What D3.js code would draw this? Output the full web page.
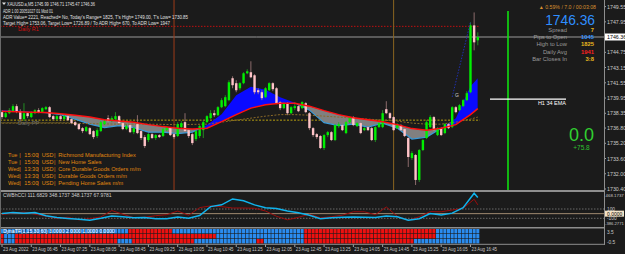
<!DOCTYPE html>
<html>
<head>
<meta charset="utf-8">
<script src="https://cdn.jsdelivr.net/npm/d3@7"></script>
<style>
body { margin: 0; background: #1b1b1b; }
svg { display: block; }
text { font-family: "Liberation Sans", Arial, sans-serif; }
</style>
</head>
<body>
<div id="chart"></div>
<script>
// bar data, XAUUSD M5, first bar 23 Aug 06:05
var opens = [1738.47,1737.95,1738.36,1738.57,1739.10,1738.57,1737.74,1738.36,1737.95,1738.36,
1738.68,1738.47,1738.78,1738.99,1738.05,1737.74,1738.05,1737.74,1738.05,1737.74,
1737.42,1737.21,1736.79,1736.48,1736.79,1736.48,1735.96,1736.48,1737.21,1737.84,
1737.53,1737.74,1738.05,1737.32,1736.69,1737.11,1736.37,1737.21,1736.48,1735.85,
1735.54,1736.16,1735.75,1736.06,1735.96,1736.58,1736.79,1736.16,1735.96,1736.90,
1737.42,1736.58,1736.16,1735.64,1735.96,1736.58,1737.42,1737.84,1738.36,1738.15,
1738.99,1739.10,1739.73,1742.03,1741.51,1740.98,1741.51,1742.55,1742.66,1742.34,
1740.77,1740.56,1740.04,1740.77,1741.51,1740.98,1739.52,1738.89,1739.41,1738.36,
1738.89,1739.10,1738.89,1739.41,1738.36,1736.79,1736.16,1735.96,1734.70,1736.06,
1736.37,1735.54,1737.00,1737.11,1736.27,1737.42,1737.95,1737.00,1737.32,1736.58,
1736.90,1736.79,1735.54,1736.90,1736.90,1738.78,1738.36,1737.95,1736.79,1737.11,
1736.69,1735.75,1733.65,1733.97,1731.35,1734.49,1735.75,1736.90,1737.95,1736.06,
1736.79,1736.27,1737.21,1736.90,1738.99,1738.68,1739.10,1739.73,1740.56,1747.58,
1746.01];
var highs = [1738.68,1738.57,1738.89,1739.31,1739.31,1738.78,1739.41,1738.47,1738.57,1738.78,
1738.89,1738.99,1739.10,1739.10,1738.15,1738.15,1738.15,1738.15,1738.15,1737.84,
1737.53,1737.32,1736.90,1737.00,1736.90,1736.58,1736.79,1737.53,1737.63,1738.15,
1738.05,1738.47,1738.15,1737.42,1737.21,1737.32,1736.90,1738.15,1736.58,1736.06,
1736.27,1736.27,1736.16,1736.16,1736.79,1737.00,1736.90,1736.27,1737.42,1737.53,
1738.36,1736.69,1736.27,1736.58,1737.11,1737.63,1738.15,1738.68,1738.68,1739.10,
1739.94,1740.25,1741.82,1742.24,1741.82,1741.61,1742.66,1742.97,1743.81,1742.45,
1740.98,1740.77,1741.09,1741.61,1741.61,1741.09,1739.62,1739.52,1739.52,1739.10,
1739.52,1739.20,1739.62,1739.52,1738.47,1736.90,1736.27,1736.06,1736.16,1736.48,
1736.48,1737.21,1737.42,1737.21,1737.53,1738.05,1738.05,1737.42,1737.42,1736.90,
1737.00,1736.90,1737.00,1737.42,1738.68,1739.62,1738.47,1738.05,1737.32,1737.21,
1736.79,1735.85,1734.38,1734.07,1734.59,1735.64,1737.63,1738.15,1738.05,1736.90,
1736.90,1737.32,1737.32,1739.10,1739.10,1739.31,1739.83,1740.67,1747.90,1748.94,
1746.85];
var lows = [1737.74,1737.84,1738.26,1738.47,1738.36,1737.53,1737.53,1737.84,1737.84,1738.26,
1738.36,1738.36,1738.68,1737.84,1737.63,1737.63,1737.53,1737.63,1737.53,1737.21,
1737.00,1736.58,1736.27,1736.37,1736.06,1735.64,1735.75,1736.37,1737.11,1737.42,
1737.42,1737.63,1737.21,1736.58,1736.58,1736.27,1736.16,1736.16,1735.54,1734.70,
1735.33,1735.64,1735.54,1735.75,1735.85,1736.48,1735.96,1735.64,1735.85,1736.79,
1736.37,1735.75,1735.01,1735.43,1735.75,1735.75,1737.32,1737.74,1737.95,1738.05,
1738.89,1738.99,1739.62,1740.98,1740.56,1740.77,1741.40,1742.45,1742.03,1740.35,
1740.35,1739.73,1739.94,1740.67,1740.67,1739.31,1738.68,1738.78,1738.15,1738.26,
1738.68,1738.47,1738.78,1738.36,1736.58,1735.85,1735.64,1734.59,1734.49,1735.85,
1735.43,1735.43,1736.79,1736.48,1736.16,1737.32,1737.00,1736.90,1736.16,1736.48,
1736.48,1735.43,1735.33,1736.79,1736.79,1738.26,1737.74,1736.48,1736.69,1736.48,
1735.85,1732.71,1733.44,1730.82,1731.14,1734.38,1735.64,1736.79,1736.48,1735.96,
1735.96,1736.16,1736.69,1736.79,1738.36,1738.57,1738.99,1739.62,1740.46,1744.96,
1745.49];
var closes = [1737.95,1738.36,1738.68,1739.10,1738.57,1737.74,1738.36,1738.05,1738.47,1738.68,
1738.47,1738.89,1738.99,1737.95,1737.74,1738.05,1737.74,1738.05,1737.63,1737.32,
1737.11,1736.69,1736.48,1736.90,1736.16,1735.85,1736.58,1737.42,1737.53,1737.53,
1737.84,1738.05,1737.32,1736.69,1737.00,1736.37,1736.79,1736.27,1735.75,1734.91,
1736.16,1735.75,1736.06,1735.85,1736.69,1736.90,1736.06,1735.85,1737.21,1737.32,
1736.48,1735.96,1735.22,1736.48,1737.00,1737.42,1738.05,1738.36,1738.15,1738.99,
1739.73,1740.04,1741.61,1741.30,1740.77,1741.51,1742.55,1742.76,1742.13,1740.56,
1740.56,1739.94,1740.98,1741.51,1740.88,1739.41,1738.89,1739.41,1738.36,1738.99,
1739.10,1738.57,1739.52,1738.47,1736.79,1736.06,1735.85,1734.70,1736.06,1736.37,
1735.54,1737.11,1737.21,1736.58,1737.42,1737.84,1737.11,1737.32,1736.27,1736.79,
1736.58,1735.54,1736.90,1737.32,1738.36,1738.36,1737.84,1736.58,1737.21,1736.58,
1735.96,1733.76,1734.17,1731.35,1734.49,1735.54,1737.42,1737.95,1736.58,1736.79,
1736.06,1737.21,1736.79,1738.99,1738.47,1739.20,1739.73,1740.46,1747.58,1745.80,
1746.36];

// ribbon: fast MA / slow MA (red) read every 4 bars
var maIdx = [0,4,8,12,16,20,24,28,32,36,40,44,48,52,56,60,64,68,72,76,80,84,88,92,96,100,104,108,112,116,120,124,128,130];
var maFast = [1738.68,1738.63,1738.52,1738.42,1738.21,1737.74,1737.21,1736.85,1737.06,1736.85,1736.37,1736.37,1736.22,1736.37,1737.11,1738.26,1740.25,1741.14,1740.83,1740.04,1739.46,1738.68,1737.37,1737.06,1737.21,1736.90,1737.32,1736.79,1735.64,1735.85,1736.79,1737.84,1741.19,1742.03];
var maSlow = [1738.57,1738.52,1738.47,1738.42,1738.31,1738.15,1737.95,1737.68,1737.53,1737.42,1737.16,1736.95,1736.79,1736.69,1736.79,1737.47,1738.21,1738.89,1739.25,1739.41,1739.41,1739.10,1738.63,1738.21,1737.89,1737.68,1737.47,1737.16,1736.74,1736.58,1736.79,1737.16,1738.21,1738.84];
// dotted H1 average
var h1Idx = [0,8,16,24,32,40,48,56,60,64,68,72,76,80,84,88,92,96,100,104,108,112,116,120,124,128,130];
var h1Ma = [1737.32,1737.32,1737.32,1737.26,1737.21,1737.21,1737.16,1737.21,1737.42,1737.63,1737.84,1738.05,1738.21,1738.21,1738.15,1738.05,1737.95,1737.84,1737.74,1737.63,1737.53,1737.32,1737.21,1737.21,1737.42,1737.74,1737.95];

var dailyR1 = 1747.48, dailyPP = 1737.35, dayOpen = 1737.63, bid = 1746.36, h1Ema = 1739.83;
var sessionBars = [47, 107];

var priceTicks = [1749.55, 1747.95, 1744.75, 1743.15, 1741.55, 1739.95, 1738.35, 1736.80, 1735.20, 1733.60, 1732.00, 1730.40];
var timeBars = [0,8,16,24,32,40,48,56,64,72,80,88,96,104,112,120,128];
var timeLabels = ["23 Aug 2022","23 Aug 06:45","23 Aug 07:25","23 Aug 08:05","23 Aug 08:45","23 Aug 09:25","23 Aug 10:05","23 Aug 10:45","23 Aug 11:25","23 Aug 12:05","23 Aug 12:45","23 Aug 13:25","23 Aug 14:05","23 Aug 14:45","23 Aug 15:25","23 Aug 16:05","23 Aug 16:45"];

// CCI window, every 3 bars
var cciIdx = [0,3,6,9,12,15,18,21,24,27,30,33,36,39,42,45,48,51,54,57,60,63,66,69,72,75,78,81,84,87,90,93,96,99,102,105,108,111,114,117,120,123,126,129,130];
var cciMain = [4,27,10,22,-44,-84,-104,-122,-144,-100,-49,-67,-89,-82,-107,-107,-71,-100,-40,151,189,316,278,189,129,111,56,18,-33,-107,-89,-78,-71,-78,-84,-49,-67,-140,-110,4,-29,11,129,438,348];
var cciSignal = [-18,11,33,-11,-56,-100,-78,-133,-107,-71,67,-11,-89,-78,-44,-22,56,-33,129,167,151,122,122,116,56,-56,-133,-78,-11,-89,-67,-33,40,40,-22,144,-56,-144,-67,44,40,78,116,311,189];
var cciMax = "468.1737", cciMin = "-386.2771";

// trend blocks, run lengths per row (B = up, R = down)
var tfRow1 = [["B",35],["R",12],["B",36],["R",36],["B",12]];
var tfRow2 = [["R",1],["B",3],["R",55],["B",24],["R",36],["B",12]];
var tfRow3 = [["R",1],["B",3],["R",28],["B",4],["R",17],["B",17],["R",2],["B",11],["R",30],["B",18]];

var infoLines = ["ADR 1.00 20051027 01 Mod 01",
  "ADR Value= 2221, Reached= No, Today's Range= 1825, T's High= 1749.00, T's Low= 1730.85",
  "Target High= 1753.06, Target Low= 1726.89 / To ADR High= 670, To ADR Low= 1947"];
var news = [["Tue","15:00","USD","Richmond Manufacturing Index"],
  ["Tue","15:00","USD","New Home Sales"],
  ["Wed","13:30","USD","Core Durable Goods Orders m/m"],
  ["Wed","13:30","USD","Durable Goods Orders m/m"],
  ["Wed","15:00","USD","Pending Home Sales m/m"]];
var stats = [["Spread","7","#e8b820"],["Pips to Open","1045","#2f8fff"],["High to Low","1825","#e8b820"],["Daily Avg","1941","#ff2020"],["Bar Closes In","3:8","#e8b820"]];

var W = 625, H = 254, R = 604;
var svg = d3.select("#chart").append("svg").attr("width", W).attr("height", H);
svg.append("rect").attr("width", W).attr("height", H).attr("fill", "#1b1b1b");

var x = d3.scaleLinear().domain([0, 130]).range([2, 477.8]);
var y = d3.scaleLinear().domain([1730.40, 1746.36]).range([189, 37]);
var yc = d3.scaleLinear().domain([-100, 100]).range([218.3, 209]);

var defs = svg.append("defs");
defs.append("clipPath").attr("id", "mainClip").append("rect").attr("width", R).attr("height", 190);
defs.append("clipPath").attr("id", "cciClip").append("rect").attr("y", 192).attr("width", R).attr("height", 35);

var main = svg.append("g").attr("clip-path", "url(#mainClip)");

// horizontal levels
function hline(p, color, dash, x2) {
  main.append("line").attr("x1", 0).attr("x2", x2).attr("y1", y(p)).attr("y2", y(p))
    .attr("stroke", color).attr("stroke-width", 1).attr("stroke-dasharray", dash);
}
hline(bid, "#9a9a9a", null, R);
hline(dailyR1, "#c01010", "1.5,1.5", x(130) + 2);
hline(dayOpen, "#b8a010", "2,1.5", x(130) + 2);
hline(dailyPP, "#6e6420", "2,1.5", 70);

// session separators
main.selectAll("line.sess").data(sessionBars).enter().append("line")
  .attr("x1", function(d) { return x(d); }).attr("x2", function(d) { return x(d); })
  .attr("y1", 0).attr("y2", 190)
  .attr("stroke", function(d, i) { return i === 0 ? "#9c3a18" : "#8a6420"; }).attr("stroke-width", 1);

// ribbon fill between fast and slow MA
var rib = maIdx.map(function(b, k) { return { i: b, f: maFast[k], s: maSlow[k] }; });
var above = d3.area().x(function(d) { return x(d.i); }).y0(0).y1(function(d) { return y(d.s); });
var below = d3.area().x(function(d) { return x(d.i); }).y0(function(d) { return y(d.s); }).y1(190);
defs.append("clipPath").attr("id", "upClip").append("path").attr("d", above(rib));
defs.append("clipPath").attr("id", "dnClip").append("path").attr("d", below(rib));
var band = d3.area().x(function(d) { return x(d.i); }).y0(function(d) { return y(d.s); }).y1(function(d) { return y(d.f); });
var fastLine = d3.line().x(function(d) { return x(d.i); }).y(function(d) { return y(d.f); });
main.append("path").attr("d", band(rib)).attr("fill", "#0a0aff").attr("clip-path", "url(#upClip)");
main.append("path").attr("d", band(rib)).attr("fill", "#808080").attr("clip-path", "url(#dnClip)");
main.append("path").attr("d", fastLine(rib)).attr("fill", "none").attr("stroke", "#3a9ad8").attr("stroke-width", 1.2).attr("clip-path", "url(#dnClip)");

// H1 dotted average
var h1 = h1Idx.map(function(b, k) { return { i: b, v: h1Ma[k] }; });
main.append("path")
  .attr("d", d3.line().x(function(d) { return x(d.i); }).y(function(d) { return y(d.v); })(h1))
  .attr("fill", "none").attr("stroke", "#8a6a28").attr("stroke-width", 1).attr("stroke-dasharray", "2,1.5");

// candles
var bars = closes.map(function(c, i) { return { i: i, o: opens[i], h: highs[i], l: lows[i], c: c }; });
var cg = main.append("g");
cg.selectAll("line").data(bars).enter().append("line")
  .attr("x1", function(d) { return x(d.i); }).attr("x2", function(d) { return x(d.i); })
  .attr("y1", function(d) { return y(d.h); }).attr("y2", function(d) { return y(d.l); })
  .attr("stroke", function(d) { return d.c >= d.o ? "#24a824" : "#a88080"; }).attr("stroke-width", 0.8);
cg.selectAll("rect").data(bars).enter().append("rect")
  .attr("x", function(d) { return x(d.i) - 1.2; }).attr("width", 2.4)
  .attr("y", function(d) { return y(Math.max(d.o, d.c)); })
  .attr("height", function(d) { return Math.max(1, Math.abs(y(d.o) - y(d.c))); })
  .attr("fill", function(d) { return d.c >= d.o ? "#00f000" : "#ffc4c8"; });

// slow MA on top
main.append("path")
  .attr("d", d3.line().x(function(d) { return x(d.i); }).y(function(d) { return y(d.s); })(rib))
  .attr("fill", "none").attr("stroke", "#ff1010").attr("stroke-width", 1.5);

// bar-size line, H1 EMA marker, G marker
main.append("line").attr("x1", 508).attr("x2", 508).attr("y1", 11).attr("y2", 190).attr("stroke", "#10e010").attr("stroke-width", 1.6);
main.append("line").attr("x1", 490).attr("x2", 566).attr("y1", y(h1Ema)).attr("y2", y(h1Ema)).attr("stroke", "#ffffff").attr("stroke-width", 1.3);
main.append("text").attr("x", 566).attr("y", y(h1Ema) + 6).attr("text-anchor", "end").attr("fill", "#ffffff").attr("font-size", 5.5).text("H1 34 EMA");
main.append("line").attr("x1", x(123)).attr("y1", 97).attr("x2", x(128)).attr("y2", 22).attr("stroke", "#2030b0").attr("stroke-dasharray", "1.5,1.5");
main.append("text").attr("x", 455).attr("y", 97).attr("fill", "#d0d0d0").attr("font-size", 5).text("G");

// top-left info
var tl = svg.append("g").attr("fill", "#e0e0e0").attr("font-size", 5.3);
tl.append("path").attr("d", "M2,2.5 L6,2.5 L4,5 Z").attr("fill", "#e0e0e0");
tl.append("text").attr("x", 7).attr("y", 6).attr("textLength", 88).attr("lengthAdjust", "spacingAndGlyphs")
  .text("XAUUSD.a,M5  1745.99 1746.71 1745.47 1746.36");
var infoW = [50, 185, 167];
infoLines.forEach(function(t, k) {
  tl.append("text").attr("x", 3).attr("y", 12.5 + k * 6.2).attr("textLength", infoW[k]).attr("lengthAdjust", "spacingAndGlyphs").text(t);
});
svg.append("text").attr("x", 18).attr("y", y(dailyR1) + 5).attr("fill", "#d01010").attr("font-size", 5.5).text("Daily R1");
svg.append("text").attr("x", 18).attr("y", y(dailyPP) + 2).attr("fill", "#707070").attr("font-size", 5.5).text("Daily PP");

// calendar
var ng = svg.append("g").attr("fill", "#e08a10").attr("font-size", 5.6);
news.forEach(function(r, k) {
  var yy = 157 + k * 7.1;
  [8, 24.3, 41.7, 58.3].forEach(function(xx, j) { ng.append("text").attr("x", xx).attr("y", yy).text(r[j]); });
  [19.3, 37.3, 54].forEach(function(xx) { ng.append("text").attr("x", xx).attr("y", yy).text("|"); });
});

// top-right panel
var tr = svg.append("g");
tr.append("text").attr("x", 596).attr("y", 8.5).attr("text-anchor", "end").attr("fill", "#d89030").attr("font-size", 5.2).text("\u25B2 0.59% / 7.0 / 00:03:08");
tr.append("text").attr("x", 595).attr("y", 24.8).attr("text-anchor", "end").attr("fill", "#2f8fff").attr("font-size", 13.8).text(bid.toFixed(2));
stats.forEach(function(s, k) {
  var yy = 31.5 + k * 7.35;
  tr.append("text").attr("x", 567).attr("y", yy).attr("text-anchor", "end").attr("fill", "#9a9a9a").attr("font-size", 5.8).text(s[0]);
  tr.append("text").attr("x", 594).attr("y", yy).attr("text-anchor", "end").attr("fill", s[2]).attr("font-size", 5.8).attr("font-weight", "bold").text(s[1]);
});
tr.append("text").attr("x", 581.5).attr("y", 140.5).attr("text-anchor", "middle").attr("fill", "#30d030").attr("font-size", 18).text("0.0");
tr.append("text").attr("x", 581.5).attr("y", 150).attr("text-anchor", "middle").attr("fill", "#30c030").attr("font-size", 6.5).text("+75.8");

// price axis
var ax = svg.append("g").attr("fill", "#c8c8c8").attr("font-size", 5.3);
priceTicks.forEach(function(p) {
  ax.append("line").attr("x1", R).attr("x2", R + 2).attr("y1", y(p)).attr("y2", y(p)).attr("stroke", "#a0a0a0");
  ax.append("text").attr("x", R + 3).attr("y", y(p) + 2).text(p.toFixed(2));
});
svg.append("rect").attr("x", R + 1).attr("y", y(bid) - 3.5).attr("width", 20).attr("height", 7).attr("fill", "#ffffff");
svg.append("text").attr("x", R + 3).attr("y", y(bid) + 2).attr("fill", "#000").attr("font-size", 5.3).text(bid.toFixed(2));

// CCI window
var cg2 = svg.append("g").attr("clip-path", "url(#cciClip)");
[100, -100].forEach(function(v) {
  cg2.append("line").attr("x1", 0).attr("x2", R).attr("y1", yc(v)).attr("y2", yc(v)).attr("stroke", "#6a6a6a").attr("stroke-dasharray", "1.5,1.5");
});
cg2.append("line").attr("x1", 0).attr("x2", R).attr("y1", yc(0)).attr("y2", yc(0)).attr("stroke", "#a08a70").attr("stroke-width", 1);
var cciLine = d3.line().x(function(d) { return x(d[0]); }).y(function(d) { return yc(d[1]); });
cg2.append("path").attr("d", cciLine(cciIdx.map(function(b, k) { return [b, cciSignal[k]]; })))
  .attr("fill", "none").attr("stroke", "#9a0c0c").attr("stroke-width", 1);
cg2.append("path").attr("d", cciLine(cciIdx.map(function(b, k) { return [b, cciMain[k]]; })))
  .attr("fill", "none").attr("stroke", "#10b4ee").attr("stroke-width", 1.5);
svg.append("text").attr("x", 3).attr("y", 197).attr("fill", "#d0d0d0").attr("font-size", 5).text("CWBhCCI 111.6829 348.1737 348.1737 67.9781");
var cax = svg.append("g").attr("fill", "#c8c8c8").attr("font-size", 4.8);
cax.append("text").attr("x", R + 1.5).attr("y", 196.5).attr("font-size", 4.4).text(cciMax);
cax.append("text").attr("x", R + 3).attr("y", yc(100) + 2).text("100");
cax.append("text").attr("x", R + 3).attr("y", yc(-100) + 2).text("-100");
cax.append("text").attr("x", R + 1).attr("y", 225.3).attr("font-size", 4.2).text(cciMin);
svg.append("rect").attr("x", R + 1).attr("y", yc(0) - 3).attr("width", 19).attr("height", 6).attr("fill", "#f4e4c8");
svg.append("text").attr("x", R + 3).attr("y", yc(0) + 2).attr("fill", "#000").attr("font-size", 5).text("0.0000");

// trend blocks
var bw = x(1) - x(0);
[tfRow1, tfRow2, tfRow3].forEach(function(row, r) {
  var cells = [], i = 0;
  row.forEach(function(run) { for (var k = 0; k < run[1]; k++) cells.push({ i: i++, c: run[0] }); });
  svg.append("g").selectAll("rect").data(cells).enter().append("rect")
    .attr("x", function(d) { return x(d.i) - bw / 2 + 0.3; }).attr("width", bw - 0.6)
    .attr("y", 229 + r * 5).attr("height", 4.4)
    .attr("fill", function(d) { return d.c === "B" ? "#2a8cf0" : "#f01010"; });
});
svg.append("text").attr("x", 3).attr("y", 233).attr("fill", "#ffffff").attr("font-size", 5).text("DynaTF(1,15,30,60) 3.0000 2.0000 1.0000 0.0000");
cax.append("text").attr("x", R + 3).attr("y", 233.5).text("3.5");
cax.append("text").attr("x", R + 3).attr("y", 243.5).text("-0.5");

// window borders
[[0, 190, R, 2], [0, 227, R, 1.5], [0, 243.8, R, 1]].forEach(function(b) {
  svg.append("rect").attr("x", b[0]).attr("y", b[1]).attr("width", b[2]).attr("height", b[3]).attr("fill", "#8e8e8e");
});
svg.append("rect").attr("x", R).attr("y", 0).attr("width", 1).attr("height", 245).attr("fill", "#8e8e8e");
svg.append("rect").attr("x", 0).attr("y", 0).attr("width", 1).attr("height", 245).attr("fill", "#6a6a6a");

// time axis
var tx = svg.append("g").attr("fill", "#c8c8c8").attr("font-size", 4.8);
timeBars.forEach(function(b, k) {
  tx.append("line").attr("x1", x(b)).attr("x2", x(b)).attr("y1", 244.5).attr("y2", 247).attr("stroke", "#a0a0a0");
  tx.append("text").attr("x", x(b) + 1).attr("y", 250.5).attr("textLength", 25.5).attr("lengthAdjust", "spacingAndGlyphs").text(timeLabels[k]);
});
</script>
</body>
</html>
